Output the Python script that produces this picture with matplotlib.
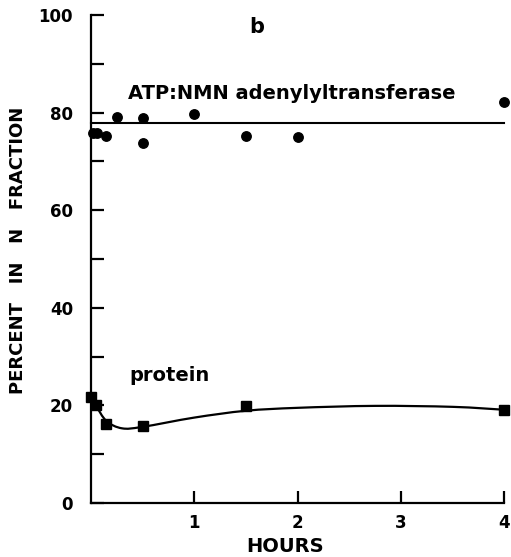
import numpy as np
import matplotlib
matplotlib.use("Agg")
import matplotlib.pyplot as plt
from matplotlib.path import Path
from matplotlib.patches import PathPatch

# ---- data ----
atp_hours = [0.02, 0.06, 0.15, 0.25, 0.5, 0.5, 1.0, 1.5, 2.0, 4.0]
atp_percent = [75.8, 75.8, 75.2, 79.1, 78.9, 73.8, 79.7, 75.2, 75.0, 82.2]
atp_mean = 77.8

protein_hours = [0.0, 0.05, 0.15, 0.5, 1.5, 4.0]
protein_percent = [21.7, 20.0, 16.2, 15.8, 19.9, 19.1]

# hand-drawn smooth curve through the protein data (knots)
curve_hours = [0.0, 0.05, 0.15, 0.3, 0.5, 1.0, 1.5, 2.0, 2.75, 3.5, 4.0]
curve_percent = [21.7, 19.9, 16.8, 15.3, 15.6, 17.5, 18.9, 19.5, 19.9, 19.7, 19.1]

x_ticks = [1, 2, 3, 4]
y_major = [0, 20, 40, 60, 80, 100]
y_minor = [10, 30, 50, 70, 90]

FONT = "DejaVu Sans"

fig = plt.figure(figsize=(5.11, 5.57), dpi=100)
ax = fig.add_axes([0.178, 0.097, 0.809, 0.876])
ax.set_xlim(0, 4)
ax.set_ylim(0, 100)

for s in ("top", "right"):
    ax.spines[s].set_visible(False)
for s in ("left", "bottom"):
    ax.spines[s].set_linewidth(1.6)

ax.set_xticks(x_ticks)
ax.set_xticklabels([str(t) for t in x_ticks])
ax.set_yticks(y_major)
ax.set_yticklabels([str(t) for t in y_major])
ax.set_yticks(y_minor, minor=True)
ax.tick_params(axis="y", which="both", direction="in", length=9.5, width=1.6,
               pad=13, labelsize=12)
ax.tick_params(axis="x", which="both", direction="in", length=9, width=1.6,
               pad=8, labelsize=12)
for lab in ax.get_xticklabels() + ax.get_yticklabels():
    lab.set_fontweight("bold")
    lab.set_family(FONT)

# ATP points and mean line
ax.plot([0, 4], [atp_mean, atp_mean], color="black", lw=1.5, clip_on=False)
ax.plot(atp_hours, atp_percent, "o", color="black", ms=6.8, clip_on=False)

# protein smooth curve (Catmull-Rom -> cubic Bezier, drawn by matplotlib)
px = np.array(curve_hours)
py = np.array(curve_percent)
n = len(px)
verts = [(px[0], py[0])]
codes = [Path.MOVETO]
for i in range(n - 1):
    p0 = np.array([px[max(i - 1, 0)], py[max(i - 1, 0)]])
    p1 = np.array([px[i], py[i]])
    p2 = np.array([px[i + 1], py[i + 1]])
    p3 = np.array([px[min(i + 2, n - 1)], py[min(i + 2, n - 1)]])
    c1 = p1 + (p2 - p0) / 6.0
    c2 = p2 - (p3 - p1) / 6.0
    verts += [tuple(c1), tuple(c2), tuple(p2)]
    codes += [Path.CURVE4] * 3
patch = PathPatch(Path(verts, codes), facecolor="none", edgecolor="black",
                  lw=1.6, transform=ax.transData, clip_on=False)
ax.add_patch(patch)
ax.plot(protein_hours, protein_percent, "s", color="black", ms=7.5, clip_on=False)

# texts
ax.text(1.6, 97.5, "b", fontsize=15, fontweight="bold", family=FONT,
        ha="center", va="center")
ax.text(0.36, 84.0, "ATP:NMN adenylyltransferase", fontsize=14,
        fontweight="bold", family=FONT, ha="left", va="center")
ax.text(0.37, 26.2, "protein", fontsize=14, fontweight="bold", family=FONT,
        ha="left", va="center")

fig.text(0.035, 0.55, "PERCENT   IN   N   FRACTION", rotation=90, fontsize=13,
         fontweight="bold", family=FONT, ha="center", va="center")
fig.text(0.558, 0.018, "HOURS", fontsize=14, fontweight="bold", family=FONT,
         ha="center", va="center")

fig.savefig("out.png", dpi=100)
